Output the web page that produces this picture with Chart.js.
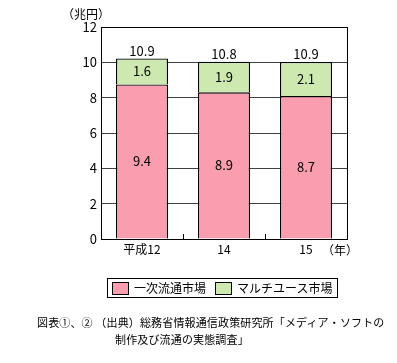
<!DOCTYPE html>
<html>
<head>
<meta charset="utf-8">
<title>メディア・ソフト市場規模</title>
<script src="https://cdn.jsdelivr.net/npm/chart.js@4"></script>
<style>
    body {
        margin: 0;
        background: #fff;
        font-family: "Noto Sans CJK JP", sans-serif;
    }
    #wrap {
        position: relative;
        width: 397px;
        height: 363px;
    }
    #chart {
        position: absolute;
        left: 0;
        top: 0;
    }
    .legend {
        position: absolute;
        left: 107px;
        top: 278px;
        width: 229px;
        height: 18px;
        border: 1px solid #000;
        font-size: 12px;
        line-height: 18px;
        white-space: nowrap;
    }
    .legend span.sw {
        position: absolute;
        top: 3px;
        width: 15px;
        height: 11px;
        border: 1px solid #000;
    }
    .legend span.tx {
        position: absolute;
        top: 0;
    }
    .caption {
        position: absolute;
        font-size: 11px;
        letter-spacing: 0.15px;
        line-height: 13px;
        white-space: nowrap;
        color: #000;
    }
</style>
</head>
<body>
<div id="wrap">
    <canvas id="chart" width="397" height="363"></canvas>
    <div class="legend">
        <span class="sw" style="left:4px;background:#f99daf"></span>
        <span class="tx" style="left:26px">一次流通市場</span>
        <span class="sw" style="left:107px;background:#cde9b0"></span>
        <span class="tx" style="left:129px">マルチユース市場</span>
    </div>
    <div class="caption" style="left:37px;top:316px">図表①、② （出典）総務省情報通信政策研究所「メディア・ソフトの</div>
    <div class="caption" style="left:115px;top:333px">制作及び流通の実態調査」</div>
</div>

<script>
    // categories and values (bar heights as drawn, printed labels as shown)
    const years = ['平成12', '14', '15'];
    const primaryMarket = [8.75, 8.3, 8.1];
    const multiUseMarket = [1.47, 1.73, 1.92];
    const primaryText = ['9.4', '8.9', '8.7'];
    const multiUseText = ['1.6', '1.9', '2.1'];
    const totalText = ['10.9', '10.8', '10.9'];
    const yMax = 12;
    const yStep = 2;

    const FONT = '"Noto Sans CJK JP", sans-serif';

    // box around plot, inner tick marks, value labels, axis units
    const extras = {
        id: 'extras',
        afterDatasetsDraw(chart) {
            const c = chart.ctx;
            const a = chart.chartArea;
            const x = chart.scales.x;
            c.save();
            c.strokeStyle = '#000';
            c.lineWidth = 1;
            c.strokeRect(Math.round(a.left) + 0.5, Math.round(a.top) + 0.5,
                Math.round(a.right - a.left), Math.round(a.bottom - a.top));

            // short ticks between categories
            for (let i = 1; i < years.length; i++) {
                const bx = Math.round((x.getPixelForValue(i - 1) + x.getPixelForValue(i)) / 2) + 0.5;
                c.beginPath();
                c.moveTo(bx, a.bottom);
                c.lineTo(bx, a.bottom - 5);
                c.stroke();
            }

            c.fillStyle = '#000';
            c.font = '13px ' + FONT;
            c.textAlign = 'center';
            c.textBaseline = 'middle';
            const m0 = chart.getDatasetMeta(0);
            const m1 = chart.getDatasetMeta(1);
            m0.data.forEach((bar, i) => {
                c.fillText(primaryText[i], bar.x, (bar.y + bar.base) / 2);
            });
            m1.data.forEach((bar, i) => {
                c.fillText(multiUseText[i], bar.x, (bar.y + bar.base) / 2);
                c.textBaseline = 'bottom';
                c.fillText(totalText[i], bar.x, bar.y - 1);
                c.textBaseline = 'middle';
            });

            c.font = '12px ' + FONT;
            c.textAlign = 'left';
            c.fillText('（兆円）', 62, 14);
            c.fillText('（年）', 322, 250);
            c.restore();
        }
    };

    new Chart(document.getElementById('chart'), {
        type: 'bar',
        data: {
            labels: years,
            datasets: [
                {
                    label: '一次流通市場',
                    data: primaryMarket,
                    backgroundColor: '#f99daf',
                    borderColor: '#000',
                    borderWidth: 1.3
                },
                {
                    label: 'マルチユース市場',
                    data: multiUseMarket,
                    backgroundColor: '#cde9b0',
                    borderColor: '#000',
                    borderWidth: 1.3
                }
            ]
        },
        options: {
            responsive: false,
            animation: false,
            layout: {
                padding: { left: 0, right: 50, top: 27, bottom: 94 }
            },
            plugins: {
                legend: { display: false },
                tooltip: { enabled: false }
            },
            datasets: {
                bar: {
                    categoryPercentage: 1,
                    barPercentage: 0.634
                }
            },
            scales: {
                x: {
                    stacked: true,
                    grid: { display: false },
                    border: { display: false },
                    ticks: {
                        color: '#000',
                        font: { family: FONT, size: 12 },
                        padding: -5
                    },
                    afterFit(s) { s.height = 30; }
                },
                y: {
                    stacked: true,
                    min: 0,
                    max: yMax,
                    grid: {
                        color: '#404040',
                        drawTicks: false
                    },
                    border: { display: false },
                    ticks: {
                        stepSize: yStep,
                        color: '#000',
                        font: { family: FONT, size: 13 },
                        padding: 4
                    },
                    afterFit(s) { s.width = 101; }
                }
            }
        },
        plugins: [extras]
    });
</script>
</body>
</html>
